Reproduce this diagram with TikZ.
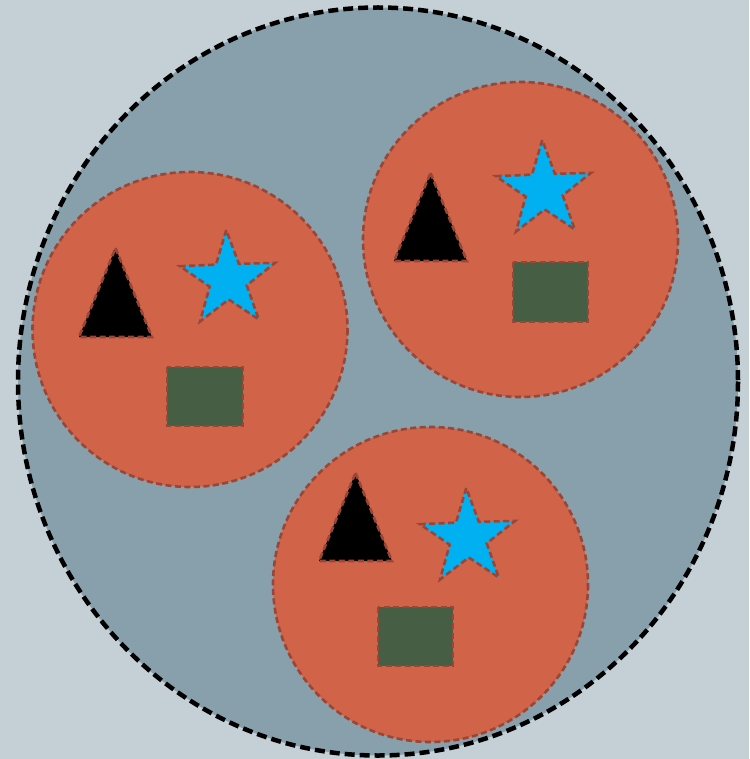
\documentclass[tikz,border=0pt]{standalone}
\definecolor{bg}{HTML}{C5D0D6}
\definecolor{outerfill}{HTML}{87A0AB}
\definecolor{redfill}{HTML}{D06348}
\definecolor{redline}{HTML}{9A4636}
\definecolor{starblue}{HTML}{00B0F0}
\definecolor{rectgreen}{HTML}{465E44}
\newcommand\mystarpath{(90:50) -- (126:19.5) -- (162:50) -- (198:19.5) -- (234:50) -- (270:19.5) -- (306:50) -- (342:19.5) -- (18:50) -- (54:19.5) -- cycle}
\tikzset{
  outer/.style={fill=outerfill, draw=black, line width=4.5pt, dash pattern=on 10pt off 5pt},
  group/.style={fill=redfill, draw=redline, line width=2.6pt, dash pattern=on 6pt off 3.5pt},
  shp/.style={draw=redline, line width=2.6pt, dash pattern=on 6pt off 3.5pt, line join=miter},
  tri/.style={shp, fill=black},
  starsh/.style={shp, fill=starblue},
  box/.style={shp, fill=rectgreen}
}
\begin{document}
\begin{tikzpicture}[x=1pt,y=-1pt]
\fill[bg] (0,0) rectangle (749,759);
\useasboundingbox (0,0) rectangle (749,759);
% outer ellipse
\draw[outer] (378,381.5) ellipse [x radius=360, y radius=374];
% red groups
\draw[group] (190,329.5) circle [radius=157.5];
\draw[group] (520.5,239.5) circle [radius=157.5];
\draw[group] (430.5,584.5) circle [radius=157.5];
% left group
\draw[tri] (115.5,248) -- (152,337) -- (79,337) -- cycle;
\begin{scope}[shift={(228,280)},yscale=-1,rotate=-2]\draw[starsh] \mystarpath;\end{scope}
\draw[box] (167,367) rectangle (243,426);
% right group
\draw[tri] (430.5,173) -- (467,261) -- (394,261) -- cycle;
\begin{scope}[shift={(544,190)},yscale=-1,rotate=-2]\draw[starsh] \mystarpath;\end{scope}
\draw[box] (513,262) rectangle (588,322);
% bottom group
\draw[tri] (355.5,473) -- (392,561) -- (319,561) -- cycle;
\begin{scope}[shift={(468,538)},yscale=-1,rotate=-2]\draw[starsh] \mystarpath;\end{scope}
\draw[box] (378,607) rectangle (453,666);
\end{tikzpicture}
\end{document}
